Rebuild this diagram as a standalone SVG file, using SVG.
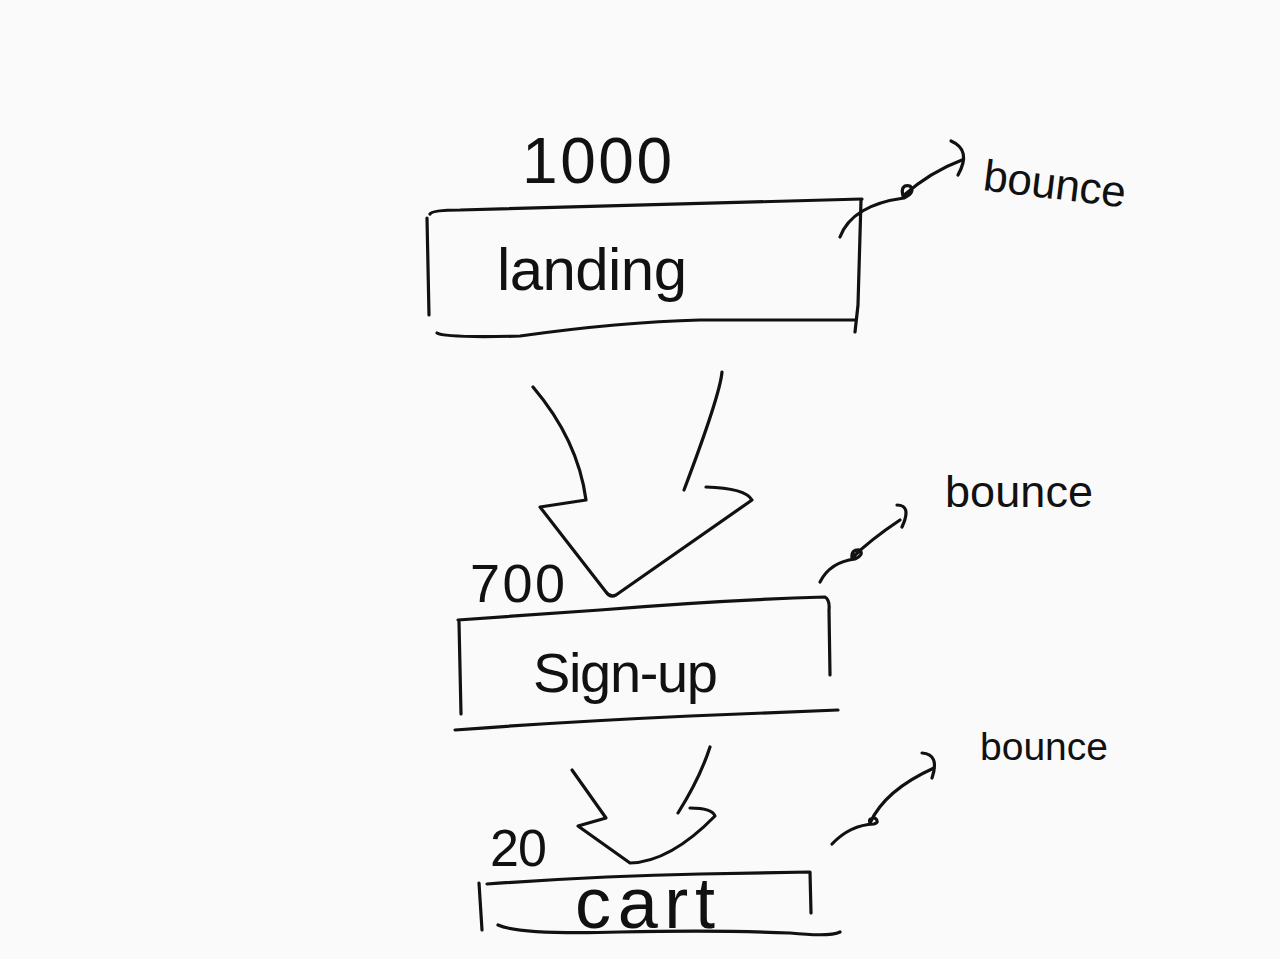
<svg xmlns="http://www.w3.org/2000/svg" width="1280" height="959" viewBox="0 0 1280 959">
<style>
.s{fill:none;stroke:#111;stroke-width:3.2;stroke-linecap:round;stroke-linejoin:round}
.t{font-family:"Liberation Sans",Arial,sans-serif;fill:#111}
</style>
<rect width="1280" height="959" fill="#fafafa"/>
<g id="landing">
<path class="s" d="M430,214 Q432,210 460,210 L862,199"/>
<path class="s" d="M427,218 L429,315"/>
<path class="s" d="M861,200 L858,305 L855,332"/>
<path class="s" d="M437,333 Q445,338 520,336 Q620,322 700,320 L855,320"/>
<text class="t" x="497" y="290" font-size="60" textLength="190" lengthAdjust="spacing">landing</text>
<text class="t" x="522" y="183" font-size="64" textLength="150" lengthAdjust="spacing">1000</text>
</g>
<g id="signup">
<path class="s" d="M458,620 L600,610 Q720,600 825,597 Q830,600 829,610 L830,675"/>
<path class="s" d="M459,622 L461,714"/>
<path class="s" d="M455,730 Q560,722 690,716 L838,710"/>
<text class="t" x="533" y="692" font-size="56" textLength="185" lengthAdjust="spacing">Sign-up</text>
<text class="t" x="470" y="602" font-size="54" textLength="95" lengthAdjust="spacing">700</text>
</g>
<g id="cart">
<path class="s" d="M487,884 Q600,876 700,874 L810,872 L811,913"/>
<path class="s" d="M479,883 L482,930"/>
<path class="s" d="M498,925 Q520,935 620,932 Q720,930 790,933 Q830,937 840,932"/>
<text class="t" x="575" y="928" font-size="72" textLength="140" lengthAdjust="spacing">cart</text>
<text class="t" x="490" y="866" font-size="52" textLength="57" lengthAdjust="spacing">20</text>
</g>
<g id="bounce1">
<text class="t" x="982" y="190" font-size="44" transform="rotate(7 982 190)" textLength="143" lengthAdjust="spacing">bounce</text>
</g>
<g id="bounce2">
<text class="t" x="945" y="507" font-size="45" textLength="148" lengthAdjust="spacing">bounce</text>
</g>
<g id="bounce3">
<text class="t" x="980" y="760" font-size="39" textLength="128" lengthAdjust="spacing">bounce</text>
</g>
<g id="connectors">
<path class="s" d="M533,387 Q578,440 586,500 L540,507 L606,592 Q610,598 616,595 L752,500 Q745,488 706,487"/>
<path class="s" d="M722,372 Q720,395 684,490"/>
<path class="s" d="M572,770 L606,818 L578,826 L630,863 Q670,862 715,816 Q712,808 690,808"/>
<path class="s" d="M710,747 Q700,778 678,813"/>
<path class="s" d="M840,237 Q852,205 904,198 Q916,192 910,186 Q900,184 903,196 Q930,172 962,160"/>
<path class="s" d="M951,141 Q972,150 958,175"/>
<path class="s" d="M820,582 Q830,562 855,559 Q864,555 860,550 Q851,549 852,558 Q870,540 900,520"/>
<path class="s" d="M897,505 Q912,505 902,527"/>
<path class="s" d="M832,844 Q850,825 874,824 Q880,822 875,818 Q868,818 870,823 Q885,790 934,768"/>
<path class="s" d="M922,753 Q940,754 932,778"/>
</g>
</svg>
